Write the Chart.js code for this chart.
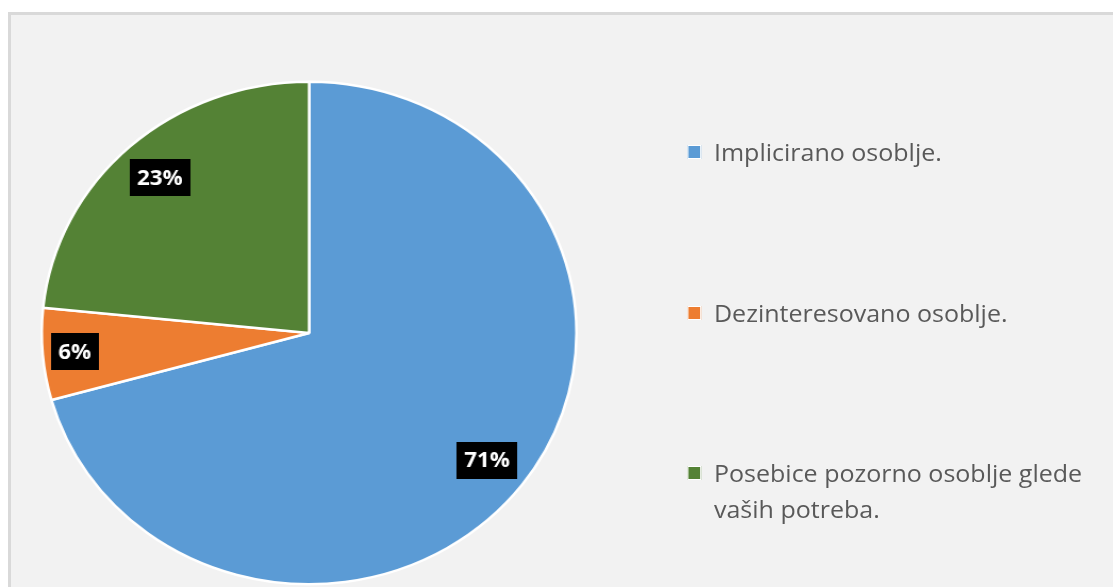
<!DOCTYPE html>
<html>
<head>
<meta charset="utf-8">
<script src="https://cdn.jsdelivr.net/npm/chart.js@4.4.0/dist/chart.umd.min.js"></script>
<style>
    body{ margin:0; background:#ffffff; width:1113px; height:587px; overflow:hidden; position:relative; }
    #frame{ position:absolute; left:8px; top:12px; width:1120px; height:600px; background:#f2f2f2; border:3px solid #d9d9d9; }
    #wrap{ position:absolute; left:0; top:0; width:1046px; height:587px; transform:scaleX(1.06405); transform-origin:0 0; }
    #chartBox{ position:absolute; left:0; top:0; width:1046px; height:587px; }
    #legend{ position:absolute; left:0; top:0; }
    .item{ position:absolute; left:646px; width:390px; font-family:"Open Sans", sans-serif; font-size:23.5px; line-height:36px; color:#595959; }
    .item .box{ position:absolute; left:0; top:11px; width:11px; height:12px; border:1.5px solid #ffffff; }
    .item .txt{ margin-left:25px; display:block; }
</style>
</head>
<body>
<div id="frame"></div>
<div id="wrap">
    <div id="chartBox"><canvas id="pieChart"></canvas></div>
    <div id="legend"></div>
</div>

<script>

// data
const categories = [
    "Implicirano osoblje.",
    "Dezinteresovano osoblje.",
    "Posebice pozorno osoblje glede vaših potreba."
];
const shares = [70.7, 5.9, 23.4];
const colors = ["#5b9bd5", "#ed7d31", "#548235"];

// label placement (fraction of radius) and legend rows
const labelRadius = [0.836, 0.88, 0.833];
const legendTops = [134, 295, 455];


// black boxes with white percentages
const boxLabels = {
    id: "boxLabels",
    afterDatasetsDraw(chart){
        const ctx = chart.ctx;
        const meta = chart.getDatasetMeta(0);
        const total = shares.reduce((a, b) => a + b, 0);

        ctx.save();
        ctx.font = "bold 21px 'Open Sans', sans-serif";
        ctx.textAlign = "center";
        ctx.textBaseline = "middle";

        meta.data.forEach(function(arc, i){
            const p = arc.getProps(["x", "y", "startAngle", "endAngle", "outerRadius"], true);
            const mid = (p.startAngle + p.endAngle) / 2;
            const r = p.outerRadius * labelRadius[i];
            const cx = p.x + Math.cos(mid) * r;
            const cy = p.y + Math.sin(mid) * r;

            const txt = Math.round(shares[i] / total * 100) + "%";
            const w = ctx.measureText(txt).width + 14;
            const h = 37;

            ctx.fillStyle = "#000000";
            ctx.fillRect(Math.round(cx - w / 2), Math.round(cy - h / 2), Math.round(w), h);
            ctx.fillStyle = "#ffffff";
            ctx.fillText(txt, cx, cy + 1);
        });

        ctx.restore();
    }
};


function renderPie(){

    new Chart(document.getElementById("pieChart"), {
        type: 'pie',
        data: {
            labels: categories,
            datasets: [{
                data: shares,
                backgroundColor: colors,
                borderColor: "#ffffff",
                borderWidth: 2.5
            }]
        },
        options: {
            responsive: true,
            maintainAspectRatio: false,
            animation: false,
            layout: {
                padding: { left: 38, right: 503, top: 79, bottom: 0 }
            },
            plugins: {
                legend: { display: false },
                tooltip: { enabled: false }
            }
        },
        plugins: [boxLabels]
    });

}


function renderLegend(){

    let html = "";
    categories.forEach(function(c, i){
        html += '<div class="item" style="top:' + legendTops[i] + 'px">'
              + '<span class="box" style="background:' + colors[i] + '"></span>'
              + '<span class="txt">' + c + '</span></div>';
    });
    document.getElementById("legend").innerHTML = html;

}


renderPie();
renderLegend();

</script>
</body>
</html>
